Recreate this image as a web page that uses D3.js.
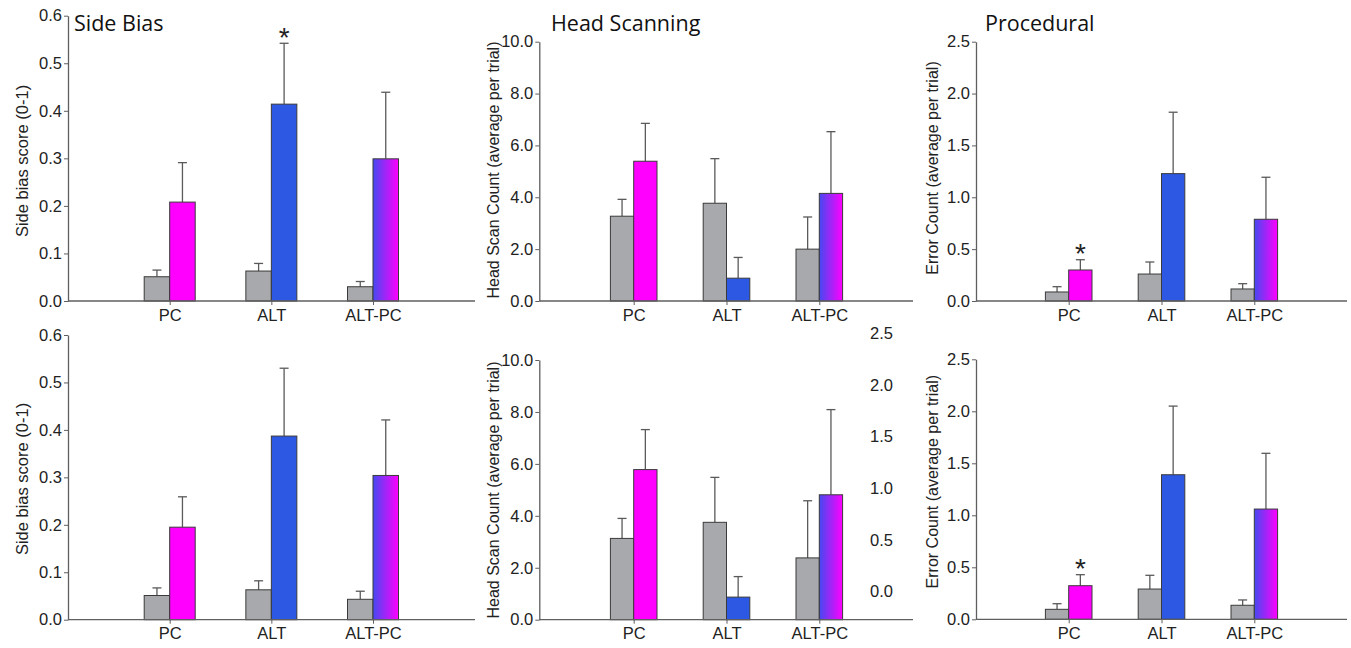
<!DOCTYPE html>
<html><head><meta charset="utf-8">
<script src="https://cdn.jsdelivr.net/npm/d3@7"></script>
<style>body{margin:0;background:#fff}svg{display:block}</style>
</head><body>
<script>
// ---------- data ----------
const categories = ["PC", "ALT", "ALT-PC"];
const panelTitles = ["Side Bias", "Head Scanning", "Procedural"];
const yLabels = ["Side bias score (0-1)", "Head Scan Count (average per trial)", "Error Count (average per trial)"];
const yMax = [0.6, 10, 2.5];
const yStep = [0.1, 2, 0.5];

// top row
const sideBiasTopBase = [0.051, 0.063, 0.030];
const sideBiasTopBaseErr = [0.014, 0.016, 0.011];
const sideBiasTopTreat = [0.208, 0.414, 0.299];
const sideBiasTopTreatErr = [0.083, 0.128, 0.140];
const sideBiasTopSig = ["ALT"];

const headScanTopBase = [3.27, 3.77, 2.00];
const headScanTopBaseErr = [0.65, 1.72, 1.24];
const headScanTopTreat = [5.39, 0.88, 4.15];
const headScanTopTreatErr = [1.46, 0.80, 2.38];
const headScanTopSig = [];

const procTopBase = [0.087, 0.26, 0.116];
const procTopBaseErr = [0.051, 0.116, 0.051];
const procTopTreat = [0.299, 1.228, 0.788];
const procTopTreatErr = [0.099, 0.592, 0.405];
const procTopSig = ["PC"];

// bottom row
const sideBiasBotBase = [0.051, 0.063, 0.043];
const sideBiasBotBaseErr = [0.016, 0.019, 0.017];
const sideBiasBotTreat = [0.195, 0.387, 0.304];
const sideBiasBotTreatErr = [0.064, 0.143, 0.117];
const sideBiasBotSig = [];

const headScanBotBase = [3.13, 3.75, 2.38];
const headScanBotBaseErr = [0.77, 1.73, 2.20];
const headScanBotTreat = [5.78, 0.87, 4.81];
const headScanBotTreatErr = [1.54, 0.79, 3.28];
const headScanBotSig = [];

const procBotBase = [0.096, 0.291, 0.135];
const procBotBaseErr = [0.054, 0.132, 0.051];
const procBotTreat = [0.323, 1.39, 1.06];
const procBotTreatErr = [0.106, 0.66, 0.536];
const procBotSig = ["PC"];

// stray tick labels (right of bottom-middle panel)
const strayTicks = [0, 0.5, 1.0, 1.5, 2.0, 2.5];

// treatment colour per category
const treatFill = ["#FF00FF", "#2C58E4", "url(#gradBM)"];
const baseFill = "#A7A9AC";

// ---------- layout ----------
const W = 1351, H = 648;
const svg = d3.select("body").append("svg").attr("width", W).attr("height", H);

const defs = svg.append("defs");
const g = defs.append("linearGradient").attr("id", "gradBM").attr("x1", "0%").attr("x2", "100%").attr("y1", "0%").attr("y2", "0%");
g.append("stop").attr("offset", "0%").attr("stop-color", "#4549F0");
g.append("stop").attr("offset", "100%").attr("stop-color", "#FF00FF");

const cols = [
  {ax: 68, xEnd: 475, c0: 169.7, c1: 373, bw: 25.5, labX: 22.5, titleX: 74},
  {ax: 539.3, xEnd: 913, c0: 633.7, c1: 819.3, bw: 23.3, labX: 493.3, titleX: 551},
  {ax: 976, xEnd: 1347, c0: 1068.7, c1: 1254.3, bw: 23.3, labX: 932, titleX: 985}
];
const labCenterY = [[161, 170, 168], [479, 490, 481.7]];
const rows = [
  [{top: 15.7, bot: 301}, {top: 41.7, bot: 301}, {top: 41.7, bot: 301}],
  [{top: 335, bot: 619.7}, {top: 360, bot: 619.7}, {top: 359.3, bot: 619.3}]
];
const panelData = [
  [
    [sideBiasTopBase, sideBiasTopBaseErr, sideBiasTopTreat, sideBiasTopTreatErr, sideBiasTopSig],
    [headScanTopBase, headScanTopBaseErr, headScanTopTreat, headScanTopTreatErr, headScanTopSig],
    [procTopBase, procTopBaseErr, procTopTreat, procTopTreatErr, procTopSig]
  ],
  [
    [sideBiasBotBase, sideBiasBotBaseErr, sideBiasBotTreat, sideBiasBotTreatErr, sideBiasBotSig],
    [headScanBotBase, headScanBotBaseErr, headScanBotTreat, headScanBotTreatErr, headScanBotSig],
    [procBotBase, procBotBaseErr, procBotTreat, procBotTreatErr, procBotSig]
  ]
];
const labSize = [16.5, 16, 16];

const axisColor = "#5f5f5f";
const tickFont = "'Liberation Sans', Arial, sans-serif";

rows.forEach((row, ri) => {
  row.forEach((r, ci) => {
    const c = cols[ci];
    const [base, baseErr, treat, treatErr, sig] = panelData[ri][ci];
    const y = d3.scaleLinear().domain([0, yMax[ci]]).range([r.bot, r.top]);
    const x = d3.scalePoint().domain(categories).range([c.c0, c.c1]);
    const p = svg.append("g");

    // bars
    categories.forEach((cat, i) => {
      const cx = x(cat);
      const bars = [
        {x0: cx - c.bw, v: base[i], e: baseErr[i], fill: baseFill},
        {x0: cx, v: treat[i], e: treatErr[i], fill: treatFill[i]}
      ];
      bars.forEach(b => {
        const mx = b.x0 + c.bw / 2;
        p.append("line").attr("x1", mx).attr("x2", mx).attr("y1", y(b.v)).attr("y2", y(b.v + b.e))
          .attr("stroke", "#5a5a5a").attr("stroke-width", 1.3);
        p.append("line").attr("x1", mx - 4.5).attr("x2", mx + 4.5).attr("y1", y(b.v + b.e)).attr("y2", y(b.v + b.e))
          .attr("stroke", "#5a5a5a").attr("stroke-width", 1.3);
        p.append("rect").attr("x", b.x0).attr("y", y(b.v)).attr("width", c.bw).attr("height", y(0) - y(b.v))
          .attr("fill", b.fill).attr("stroke", "#3a3a3a").attr("stroke-width", 1);
      });
      if (sig.includes(cat)) {
        const fs = 28;
        p.append("text").attr("x", cx + c.bw / 2).attr("y", y(treat[i] + treatErr[i]) - 12.5 + 0.57 * fs)
          .attr("text-anchor", "middle")
          .attr("font-family", tickFont).attr("font-size", fs).attr("fill", "#222").text("*");
      }
    });

    // x axis line
    p.append("line").attr("x1", c.ax).attr("x2", c.xEnd).attr("y1", r.bot).attr("y2", r.bot)
      .attr("stroke", axisColor).attr("stroke-width", 1.3);
    const xa = p.append("g").attr("transform", `translate(0,${r.bot})`)
      .call(d3.axisBottom(x).tickSize(4).tickPadding(4));
    xa.select(".domain").remove();
    xa.selectAll("line").attr("stroke", axisColor);
    xa.selectAll("text").attr("font-family", tickFont).attr("font-size", 16.5).attr("fill", "#222");

    // y axis
    const ticks = d3.range(0, yMax[ci] + yStep[ci] / 2, yStep[ci]);
    const ya = p.append("g").attr("transform", `translate(${c.ax},0)`)
      .call(d3.axisLeft(y).tickValues(ticks).tickFormat(d3.format(".1f")).tickSize(4).tickPadding(2).tickSizeOuter(0));
    ya.select(".domain").attr("stroke", axisColor).attr("stroke-width", 1.3);
    ya.selectAll("line").attr("stroke", axisColor);
    ya.selectAll("text").attr("font-family", tickFont).attr("font-size", 16.5).attr("fill", "#222");

    // y label
    p.append("text").attr("transform", `translate(${c.labX},${labCenterY[ri][ci]}) rotate(-90)`)
      .attr("text-anchor", "middle").attr("dy", "0.35em")
      .attr("font-family", tickFont).attr("font-size", labSize[ci]).attr("fill", "#222").text(yLabels[ci]);

    if (ri === 0) {
      p.append("text").attr("x", c.titleX).attr("y", 30.7)
        .attr("font-family", "'Open Sans', 'Noto Sans', sans-serif").attr("font-size", 21.5).attr("fill", "#111")
        .text(panelTitles[ci]);
    }
  });
});

// stray tick labels right of bottom-middle panel
const ys = d3.scaleLinear().domain([0, 2.5]).range([591.7, 333.3]);
const sa = svg.append("g").attr("transform", "translate(867,0)")
  .call(d3.axisRight(ys).tickValues(strayTicks).tickFormat(d3.format(".1f")).tickSize(0).tickPadding(3));
sa.select(".domain").remove();
sa.selectAll("text").attr("font-family", tickFont).attr("font-size", 16.5).attr("fill", "#222");
</script>
</body></html>
